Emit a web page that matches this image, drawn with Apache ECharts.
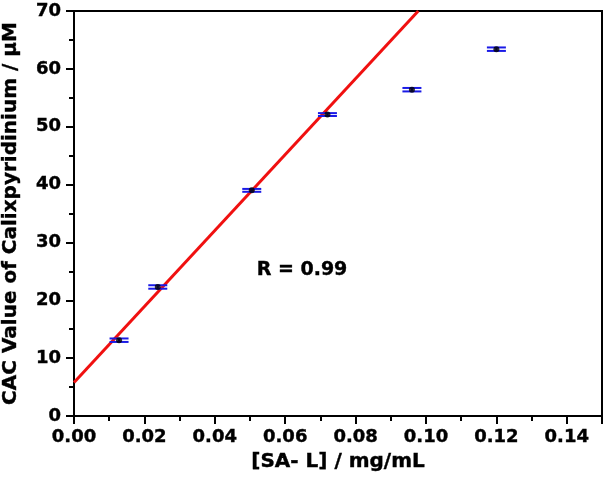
<!DOCTYPE html>
<html>
<head>
<meta charset="utf-8">
<script src="https://cdn.jsdelivr.net/npm/echarts@6/dist/echarts.min.js"></script>
<style>
  html, body { margin: 0; padding: 0; background: #fff; }
  #chart { width: 604px; height: 479px; }
</style>
</head>
<body>
<div id="chart"></div>
<script>
// measured points
const concX = [0.0128, 0.0238, 0.0505, 0.072, 0.096, 0.120];
const cacY = [13.1, 22.3, 39.0, 52.1, 56.4, 63.4];
const cacErr = [0.3, 0.3, 0.25, 0.25, 0.3, 0.3];
// linear fit, drawn between these two ends
const fitX = [0, 0.0978];
const fitY = [5.8, 70];

const FONT = 'DejaVu Sans';
const txt = { fontFamily: FONT, fontWeight: 'bold', color: '#000', textBorderColor: '#000', textBorderWidth: 0.4 };

const chart = echarts.init(document.getElementById('chart'));

const pts = concX.map((x, i) => [x, cacY[i]]);
const errData = concX.map((x, i) => [x, cacY[i] - cacErr[i], cacY[i] + cacErr[i]]);
const fitData = fitX.map((x, i) => [x, fitY[i]]);

function renderErr(params, api) {
  const lo = api.coord([api.value(0), api.value(1)]);
  const hi = api.coord([api.value(0), api.value(2)]);
  const w = 9.5;
  const st = { stroke: '#1a1ae6', lineWidth: 2 };
  return {
    type: 'group',
    children: [
      { type: 'line', shape: { x1: lo[0], y1: lo[1], x2: hi[0], y2: hi[1] }, style: st },
      { type: 'line', shape: { x1: lo[0] - w, y1: lo[1], x2: lo[0] + w, y2: lo[1] }, style: st },
      { type: 'line', shape: { x1: hi[0] - w, y1: hi[1], x2: hi[0] + w, y2: hi[1] }, style: st }
    ]
  };
}

const option = {
  backgroundColor: '#fff',
  animation: false,
  grid: {
    left: 74, right: 2, top: 11, bottom: 63,
    outerBoundsMode: 'none',
    show: true, borderColor: '#000', borderWidth: 2
  },
  xAxis: {
    type: 'value',
    min: 0, max: 0.15, interval: 0.02,
    name: '[SA- L] / mg/mL',
    nameLocation: 'middle',
    nameGap: 31,
    nameTextStyle: Object.assign({ fontSize: 20 }, txt),
    axisLine: { lineStyle: { color: '#000', width: 2 } },
    axisTick: { length: 8, lineStyle: { color: '#000', width: 2 } },
    minorTick: { show: true, splitNumber: 2, length: 5, lineStyle: { color: '#000', width: 2 } },
    splitLine: { show: false },
    axisLabel: Object.assign({
      margin: 12, fontSize: 18,
      showMaxLabel: false,
      formatter: v => v.toFixed(2)
    }, txt)
  },
  yAxis: {
    type: 'value',
    min: 0, max: 70, interval: 10,
    name: 'CAC Value of Calixpyridinium / \u03bcM',
    nameLocation: 'middle',
    nameGap: 53,
    nameTextStyle: Object.assign({ fontSize: 20 }, txt),
    axisLine: { lineStyle: { color: '#000', width: 2 } },
    axisTick: { length: 8, lineStyle: { color: '#000', width: 2 } },
    minorTick: { show: true, splitNumber: 2, length: 5, lineStyle: { color: '#000', width: 2 } },
    splitLine: { show: false },
    axisLabel: Object.assign({ margin: 13, fontSize: 18 }, txt)
  },
  series: [
    {
      type: 'line',
      data: fitData,
      symbol: 'none',
      lineStyle: { color: '#f01010', width: 3 },
      z: 2
    },
    {
      type: 'custom',
      data: errData,
      renderItem: renderErr,
      z: 3
    },
    {
      type: 'scatter',
      data: pts,
      symbolSize: 6,
      itemStyle: { color: '#000' },
      z: 4
    }
  ],
  graphic: [
    {
      type: 'text',
      x: 302, y: 270,
      style: {
        text: 'R = 0.99',
        fontFamily: FONT, fontWeight: 'bold', fontSize: 19, fill: '#000',
        stroke: '#000', lineWidth: 0.4,
        textAlign: 'center', textVerticalAlign: 'middle'
      }
    }
  ]
};

chart.setOption(option);
</script>
</body>
</html>
